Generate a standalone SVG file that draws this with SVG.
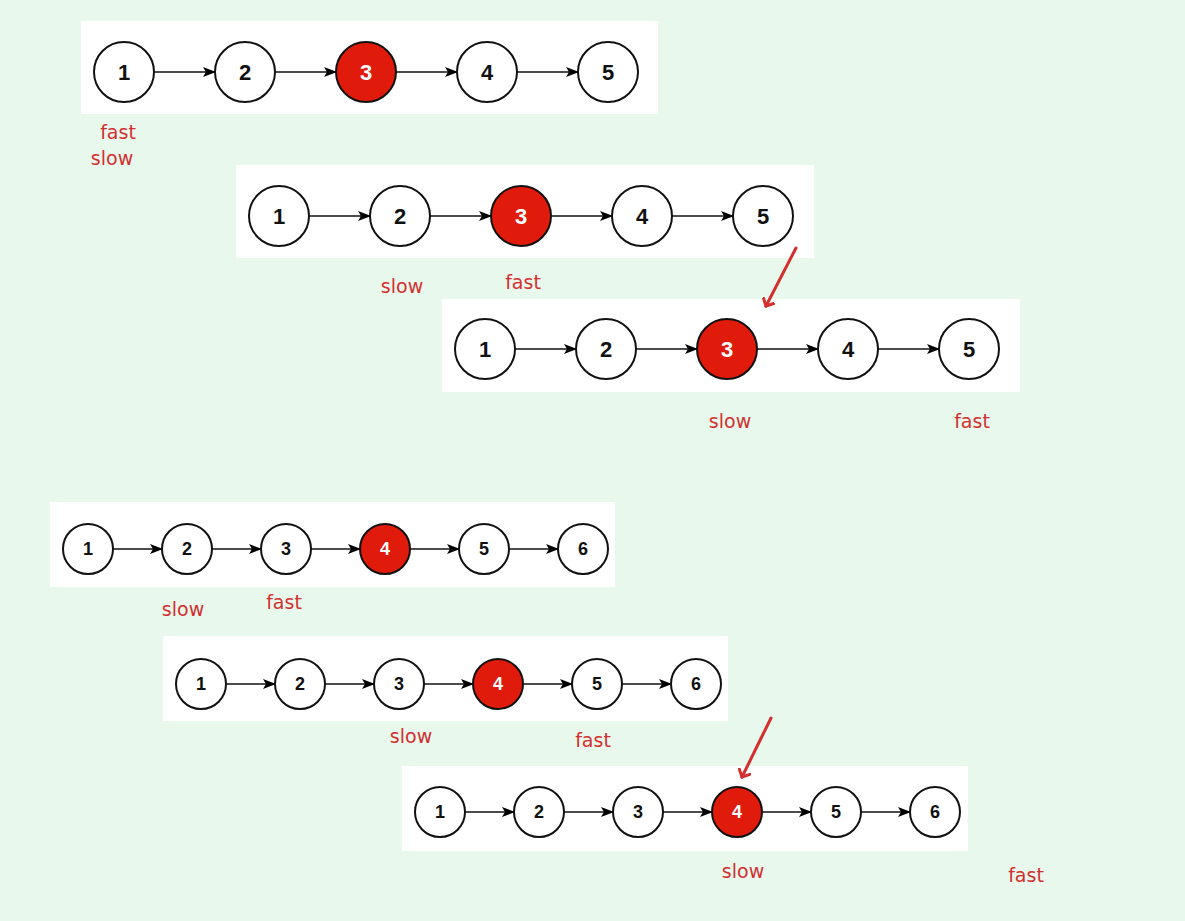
<svg xmlns="http://www.w3.org/2000/svg" width="1185" height="921" viewBox="0 0 1185 921">
<defs>
<marker id="ah" markerWidth="13" markerHeight="10" refX="12" refY="5" orient="auto" markerUnits="userSpaceOnUse"><path d="M0,0 L13,5 L0,10 L3,5 Z" fill="#000"/></marker>
<marker id="rh" markerWidth="14" markerHeight="14" refX="7" refY="7" orient="auto" markerUnits="userSpaceOnUse"><path d="M0,0 L7,7 L0,14" fill="none" stroke="#d32f2f" stroke-width="3" stroke-linecap="round"/></marker>
</defs>
<style>
.panel{fill:#fff}
.n{fill:#fff;stroke:#111;stroke-width:2}
.r{fill:#e01b0b;stroke:#111;stroke-width:2}
.t{font-family:"Liberation Sans",Arial,sans-serif;font-weight:bold;font-size:22px;text-anchor:middle;dominant-baseline:central;fill:#111}
.ts{font-size:18px}
.tw{fill:#fff}
.e{stroke:#111;stroke-width:1.6;fill:none;marker-end:url(#ah)}
.lbl{font-family:"Comic Sans MS","DejaVu Sans",sans-serif;font-size:19px;fill:#d32f2f;text-anchor:middle}
.ra{stroke:#d32f2f;stroke-width:3;fill:none;marker-end:url(#rh);stroke-linecap:round}
</style>
<rect width="1185" height="921" fill="#e9f8ec"/>
<rect class="panel" x="81" y="21" width="577" height="93"/>
<rect class="panel" x="236" y="165" width="578" height="93"/>
<rect class="panel" x="442" y="299" width="578" height="93"/>
<rect class="panel" x="50" y="502" width="565" height="85"/>
<rect class="panel" x="163" y="636" width="565" height="85"/>
<rect class="panel" x="402" y="766" width="566" height="85"/>
<g id="connectors">
<line class="e" x1="154" y1="72" x2="215" y2="72"/><line class="e" x1="275" y1="72" x2="336" y2="72"/><line class="e" x1="396" y1="72" x2="457" y2="72"/><line class="e" x1="517" y1="72" x2="578" y2="72"/>
<line class="e" x1="309" y1="216" x2="370" y2="216"/><line class="e" x1="430" y1="216" x2="491" y2="216"/><line class="e" x1="551" y1="216" x2="612" y2="216"/><line class="e" x1="672" y1="216" x2="733" y2="216"/>
<line class="e" x1="515" y1="349" x2="576" y2="349"/><line class="e" x1="636" y1="349" x2="697" y2="349"/><line class="e" x1="757" y1="349" x2="818" y2="349"/><line class="e" x1="878" y1="349" x2="939" y2="349"/>
<line class="e" x1="113" y1="549" x2="162" y2="549"/><line class="e" x1="212" y1="549" x2="261" y2="549"/><line class="e" x1="311" y1="549" x2="360" y2="549"/><line class="e" x1="410" y1="549" x2="459" y2="549"/><line class="e" x1="509" y1="549" x2="558" y2="549"/>
<line class="e" x1="226" y1="684" x2="275" y2="684"/><line class="e" x1="325" y1="684" x2="374" y2="684"/><line class="e" x1="424" y1="684" x2="473" y2="684"/><line class="e" x1="523" y1="684" x2="572" y2="684"/><line class="e" x1="622" y1="684" x2="671" y2="684"/>
<line class="e" x1="465" y1="812" x2="514" y2="812"/><line class="e" x1="564" y1="812" x2="613" y2="812"/><line class="e" x1="663" y1="812" x2="712" y2="812"/><line class="e" x1="762" y1="812" x2="811" y2="812"/><line class="e" x1="861" y1="812" x2="910" y2="812"/>
<line class="ra" x1="796" y1="248" x2="766" y2="306"/>
<line class="ra" x1="771" y1="718" x2="742" y2="777"/>
</g>
<g id="a1"><circle class="n" cx="124" cy="72" r="30"/><text class="t" x="124" y="72">1</text></g>
<g id="a2"><circle class="n" cx="245" cy="72" r="30"/><text class="t" x="245" y="72">2</text></g>
<g id="a3"><circle class="r" cx="366" cy="72" r="30"/><text class="t tw" x="366" y="72">3</text></g>
<g id="a4"><circle class="n" cx="487" cy="72" r="30"/><text class="t" x="487" y="72">4</text></g>
<g id="a5"><circle class="n" cx="608" cy="72" r="30"/><text class="t" x="608" y="72">5</text></g>
<g id="b1"><circle class="n" cx="279" cy="216" r="30"/><text class="t" x="279" y="216">1</text></g>
<g id="b2"><circle class="n" cx="400" cy="216" r="30"/><text class="t" x="400" y="216">2</text></g>
<g id="b3"><circle class="r" cx="521" cy="216" r="30"/><text class="t tw" x="521" y="216">3</text></g>
<g id="b4"><circle class="n" cx="642" cy="216" r="30"/><text class="t" x="642" y="216">4</text></g>
<g id="b5"><circle class="n" cx="763" cy="216" r="30"/><text class="t" x="763" y="216">5</text></g>
<g id="c1"><circle class="n" cx="485" cy="349" r="30"/><text class="t" x="485" y="349">1</text></g>
<g id="c2"><circle class="n" cx="606" cy="349" r="30"/><text class="t" x="606" y="349">2</text></g>
<g id="c3"><circle class="r" cx="727" cy="349" r="30"/><text class="t tw" x="727" y="349">3</text></g>
<g id="c4"><circle class="n" cx="848" cy="349" r="30"/><text class="t" x="848" y="349">4</text></g>
<g id="c5"><circle class="n" cx="969" cy="349" r="30"/><text class="t" x="969" y="349">5</text></g>
<g id="d1"><circle class="n" cx="88" cy="549" r="25"/><text class="t ts" x="88" y="549">1</text></g>
<g id="d2"><circle class="n" cx="187" cy="549" r="25"/><text class="t ts" x="187" y="549">2</text></g>
<g id="d3"><circle class="n" cx="286" cy="549" r="25"/><text class="t ts" x="286" y="549">3</text></g>
<g id="d4"><circle class="r" cx="385" cy="549" r="25"/><text class="t ts tw" x="385" y="549">4</text></g>
<g id="d5"><circle class="n" cx="484" cy="549" r="25"/><text class="t ts" x="484" y="549">5</text></g>
<g id="d6"><circle class="n" cx="583" cy="549" r="25"/><text class="t ts" x="583" y="549">6</text></g>
<g id="e1"><circle class="n" cx="201" cy="684" r="25"/><text class="t ts" x="201" y="684">1</text></g>
<g id="e2"><circle class="n" cx="300" cy="684" r="25"/><text class="t ts" x="300" y="684">2</text></g>
<g id="e3"><circle class="n" cx="399" cy="684" r="25"/><text class="t ts" x="399" y="684">3</text></g>
<g id="e4"><circle class="r" cx="498" cy="684" r="25"/><text class="t ts tw" x="498" y="684">4</text></g>
<g id="e5"><circle class="n" cx="597" cy="684" r="25"/><text class="t ts" x="597" y="684">5</text></g>
<g id="e6"><circle class="n" cx="696" cy="684" r="25"/><text class="t ts" x="696" y="684">6</text></g>
<g id="f1"><circle class="n" cx="440" cy="812" r="25"/><text class="t ts" x="440" y="812">1</text></g>
<g id="f2"><circle class="n" cx="539" cy="812" r="25"/><text class="t ts" x="539" y="812">2</text></g>
<g id="f3"><circle class="n" cx="638" cy="812" r="25"/><text class="t ts" x="638" y="812">3</text></g>
<g id="f4"><circle class="r" cx="737" cy="812" r="25"/><text class="t ts tw" x="737" y="812">4</text></g>
<g id="f5"><circle class="n" cx="836" cy="812" r="25"/><text class="t ts" x="836" y="812">5</text></g>
<g id="f6"><circle class="n" cx="935" cy="812" r="25"/><text class="t ts" x="935" y="812">6</text></g>
<g id="labels">
<text class="lbl" x="118" y="139">fast</text><text class="lbl" x="112" y="165">slow</text>
<text class="lbl" x="402" y="293">slow</text><text class="lbl" x="523" y="289">fast</text>
<text class="lbl" x="730" y="428">slow</text><text class="lbl" x="972" y="428">fast</text>
<text class="lbl" x="183" y="616">slow</text><text class="lbl" x="284" y="609">fast</text>
<text class="lbl" x="411" y="743">slow</text><text class="lbl" x="593" y="747">fast</text>
<text class="lbl" x="743" y="878">slow</text><text class="lbl" x="1026" y="882">fast</text>
</g>
</svg>
